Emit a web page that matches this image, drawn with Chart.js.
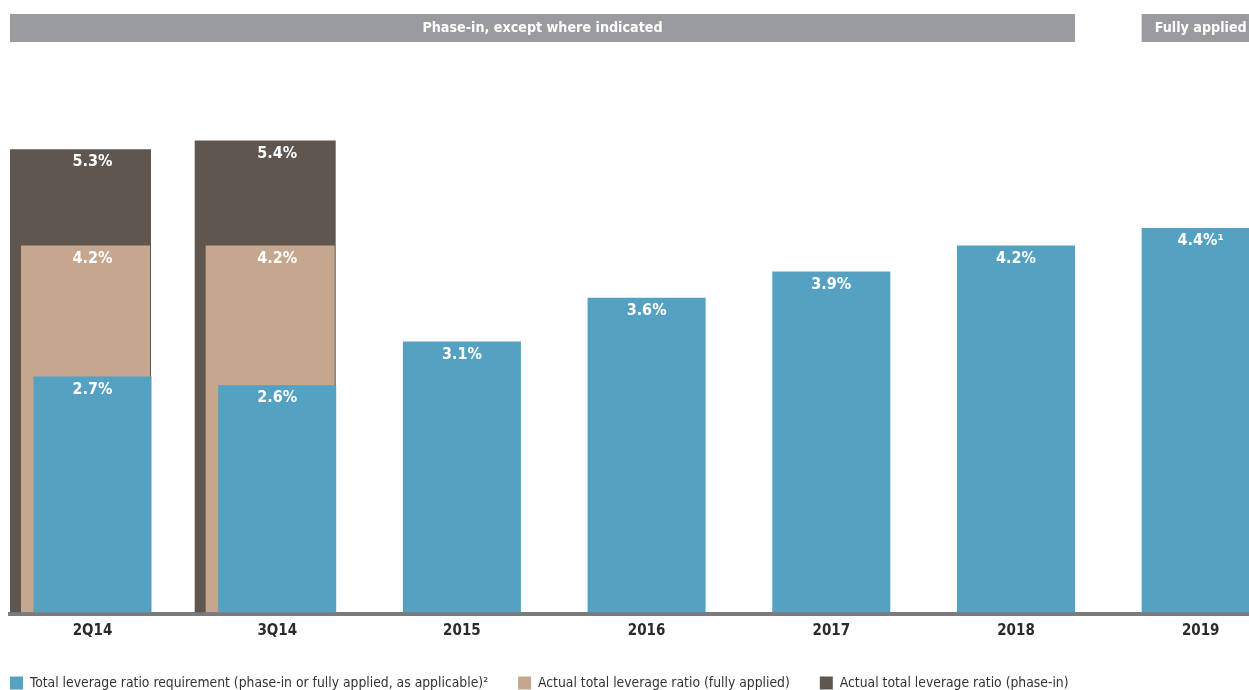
<!DOCTYPE html>
<html>
<head>
<meta charset="utf-8">
<script src="https://cdn.jsdelivr.net/npm/chart.js@4.4.1/dist/chart.umd.min.js"></script>
<style>
  html, body { margin: 0; padding: 0; background: #fff; overflow: hidden; }
  #wrap { width: 1300px; height: 700px; }
</style>
</head>
<body>
<div id="wrap"><canvas id="chart" width="1300" height="700"></canvas></div>
<script>
const categories = ['2Q14', '3Q14', '2015', '2016', '2017', '2018', '2019']
const requirement = [2.7, 2.6, 3.1, 3.6, 3.9, 4.2, 4.4]
const requirementNotes = ['', '', '', '', '', '', '¹']
const fullyApplied = [4.2, 4.2]
const phaseIn = [5.3, 5.4]
const seriesNames = [
  'Total leverage ratio requirement (phase-in or fully applied, as applicable)²',
  'Actual total leverage ratio (fully applied)',
  'Actual total leverage ratio (phase-in)',
]
const headers = ['Phase-in, except where indicated', 'Fully applied']

const FONT = '"Liberation Sans Narrow", "DejaVu Sans Condensed", "Noto Sans", sans-serif'
const BLUE = '#55a1c1'
const TAN = '#c4a78e'
const DARK = '#5f5650'
const HEAD = '#9a9b9f'

const points = (arr) => arr.map((v, i) => ({ x: i, y: v }))
const pct = (v) => v.toFixed(1) + '%'

// the tan and dark bars sit a little left of the category centre
const hiddenX = (shift) => ({
  type: 'linear',
  display: false,
  offset: false,
  min: -0.4467 + shift,
  max: 6.5377 + shift,
  ticks: { stepSize: 1, includeBounds: false },
})

const barLabels = {
  id: 'barLabels',
  afterDatasetsDraw(chart) {
    const { ctx } = chart
    const x = chart.scales.x
    ctx.save()
    ctx.fillStyle = '#fff'
    ctx.font = `bold 16px ${FONT}`
    ctx.textAlign = 'center'
    ctx.textBaseline = 'middle'
    chart.data.datasets.forEach((ds, di) => {
      chart.getDatasetMeta(di).data.forEach((bar, i) => {
        const note = di === 0 ? requirementNotes[i] : ''
        ctx.fillText(pct(ds.data[i].y) + note, x.getPixelForValue(i), bar.y + 13)
      })
    })
    ctx.restore()
  },
}

const phaseHeaders = {
  id: 'phaseHeaders',
  afterDraw(chart) {
    const { ctx } = chart
    const blue = chart.getDatasetMeta(0).data
    const dark = chart.getDatasetMeta(2).data
    const spans = [
      [dark[0].x - dark[0].width / 2, blue[5].x + blue[5].width / 2],
      [blue[6].x - blue[6].width / 2, blue[6].x + blue[6].width / 2],
    ]
    ctx.save()
    ctx.font = `bold 14.2px ${FONT}`
    ctx.textAlign = 'center'
    ctx.textBaseline = 'middle'
    spans.forEach(([l, r], i) => {
      ctx.fillStyle = HEAD
      ctx.fillRect(l, 14, r - l, 28)
      ctx.fillStyle = '#fff'
      ctx.fillText(headers[i], (l + r) / 2, 28)
    })
    ctx.restore()
  },
}

// start the legend flush with the plot instead of one padding in
const legendAlign = {
  id: 'legendAlign',
  afterLayout(chart) {
    chart.legend.left -= 30
    chart.legend.right -= 30
  },
}

const barSet = (label, data, color, axis, width) => ({
  label,
  data: points(data),
  backgroundColor: color,
  borderWidth: 0,
  xAxisID: axis,
  grouped: false,
  barPercentage: width,
  categoryPercentage: 1,
})

new Chart(document.getElementById('chart'), {
  type: 'bar',
  data: {
    datasets: [
      barSet(seriesNames[0], requirement, BLUE, 'x', 0.639),
      barSet(seriesNames[1], fullyApplied, TAN, 'xTan', 0.6985),
      barSet(seriesNames[2], phaseIn, DARK, 'xDark', 0.7635),
    ],
  },
  options: {
    responsive: false,
    animation: false,
    layout: { padding: { top: 62, left: 10 } },
    scales: {
      x: {
        type: 'linear',
        offset: false,
        min: -0.4467,
        max: 6.5377,
        grid: { display: false },
        border: { color: '#7b7b7b', width: 4 },
        ticks: {
          stepSize: 1,
          includeBounds: false,
          autoSkip: false,
          maxRotation: 0,
          padding: 0,
          color: '#2b2b2b',
          font: { family: FONT, size: 15, weight: 'bold' },
          callback: (v) => categories[v] ?? '',
        },
        afterFit: (s) => { s.height = 32 },
      },
      xTan: hiddenX(0.038),
      xDark: hiddenX(0.065),
      y: { display: false, min: -0.023, max: 6.3 },
    },
    plugins: {
      legend: {
        position: 'bottom',
        align: 'start',
        labels: {
          boxWidth: 13,
          boxHeight: 13,
          padding: 30,
          color: '#333',
          font: { family: FONT, size: 13.8 },
        },
      },
      tooltip: { enabled: false },
    },
  },
  plugins: [barLabels, phaseHeaders, legendAlign],
})
</script>
</body>
</html>
